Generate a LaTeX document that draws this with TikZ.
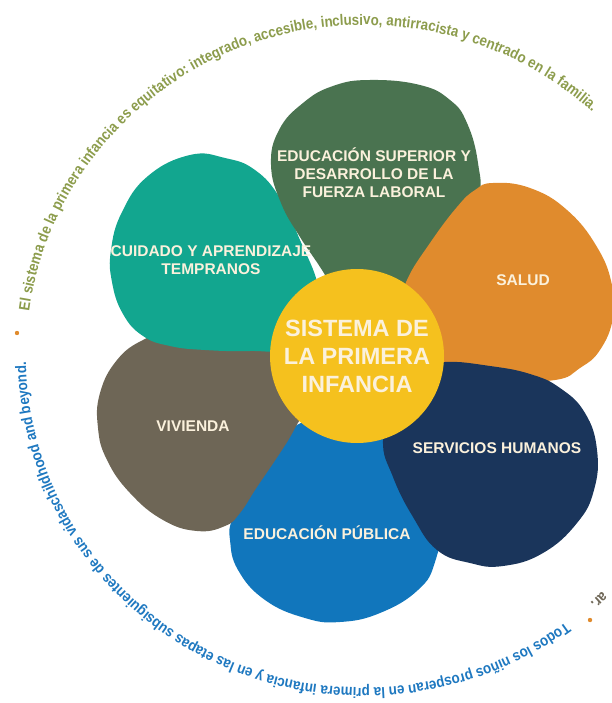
\documentclass[tikz,border=0pt]{standalone}
\usepackage{fontspec}
\setmainfont{Liberation Sans}
\newfontfamily\curvefont[FakeStretch=0.88]{Liberation Sans Bold}
\usetikzlibrary{decorations.text}

\definecolor{tealpetal}{HTML}{12A68F}
\definecolor{greenpetal}{HTML}{4A7350}
\definecolor{orangepetal}{HTML}{E08B2D}
\definecolor{navypetal}{HTML}{1A355B}
\definecolor{bluepetal}{HTML}{1176BC}
\definecolor{brownpetal}{HTML}{6E6656}
\definecolor{centeryellow}{HTML}{F5C11E}
\definecolor{labelcream}{HTML}{FBF1DC}
\definecolor{olivetext}{HTML}{8C9C4C}
\definecolor{bluetext}{HTML}{1E78C0}

\NewDocumentCommand{\petal}{mm}{%
\fill[#1] plot[smooth cycle, tension=0.75] coordinates {#2};%
}

\tikzset{
  petallabel/.style={text=labelcream, align=center,
    font=\bfseries\fontsize{15.5}{18}\selectfont},
  centerlabel/.style={circle, fill=centeryellow, minimum size=174pt,
    inner sep=0pt, text=labelcream, align=center,
    font=\bfseries\fontsize{23.5}{28}\selectfont},
  arctext/.style={decorate, decoration={text along path, text align=center,
    text color=#1}},
}

\begin{document}
\begin{tikzpicture}[x=1pt, y=1pt]
        \useasboundingbox (0,0) rectangle (611,-703);

        % petals, bottom one first
        \petal{bluepetal}{(297,-425) (270,-465) (245,-497) (232,-520) (230,-540) (238,-570) (265,-600) (305,-618) (340,-622) (380,-613) (418,-590) (435,-562) (440,-520) (425,-470) (395,-432) (350,-420)}
        \petal{brownpetal}{(143,-340) (117,-360) (100,-393) (98,-428) (107,-460) (130,-493) (163,-520) (197,-531) (225,-526) (240,-513) (257,-487) (280,-453) (295,-428) (310,-395) (300,-350) (230,-335) (170,-333)}
        \petal{tealpetal}{(190,-155) (225,-158) (255,-170) (280,-198) (300,-240) (318,-285) (320,-320) (290,-348) (250,-351) (205,-350) (170,-346) (143,-336) (123,-314) (112,-282) (111,-250) (122,-212) (148,-176)}
        \petal{greenpetal}{(370,-80) (420,-85) (450,-100) (467,-123) (478,-163) (478,-200) (455,-245) (420,-290) (385,-325) (350,-315) (322,-270) (300,-237) (281,-203) (271,-165) (279,-130) (303,-103) (333,-86)}
        \petal{orangepetal}{(493,-183) (530,-188) (567,-210) (597,-247) (612,-285) (613,-318) (600,-350) (580,-368) (555,-380) (500,-380) (450,-370) (405,-345) (400,-310) (407,-280) (430,-243) (457,-207) (475,-190)}
        \petal{navypetal}{(445,-362) (490,-366) (530,-374) (560,-388) (585,-413) (597,-450) (594,-490) (577,-523) (543,-553) (503,-566) (470,-563) (437,-550) (413,-517) (393,-477) (383,-440) (395,-395) (415,-370)}

        % labels
        \node[petallabel] (superior) at (374,-173) {EDUCACIÓN SUPERIOR Y\\DESARROLLO DE LA\\FUERZA LABORAL};
        \node[petallabel] (cuidado) at (211,-260) {CUIDADO Y APRENDIZAJE\\TEMPRANOS};
        \node[petallabel] (salud) at (523,-280) {SALUD};
        \node[petallabel] (servicios) at (497,-448) {SERVICIOS HUMANOS};
        \node[petallabel] (publica) at (327,-533) {EDUCACIÓN PÚBLICA};
        \node[petallabel] (vivienda) at (193,-426) {VIVIENDA};

        % centre
        \node[centerlabel] (sistema) at (357,-356) {SISTEMA DE\\LA PRIMERA\\INFANCIA};

        % ring of text
        \path[arctext=olivetext, decoration={text={|\curvefont\fontsize{15.2}{15.2}\selectfont|El sistema de la primera infancia es equitativo: integrado, accesible, inclusivo, antirracista y centrado en la familia.}}]
          (364,-356.5) ++(184.9:338 and 331.5) arc[start angle=184.9, end angle=34.9, x radius=338, y radius=331.5];
        \path[arctext=bluetext, decoration={text={|\curvefont\fontsize{15.2}{15.2}\selectfont|Todos los niños prosperan en la primera infancia y en las etapas subsiguientes de sus vidaschildhood and beyond.}}]
          (364,-356.5) ++(-39.25:338 and 331.5) arc[start angle=-39.25, end angle=-193.25, x radius=338, y radius=331.5];
        \path[arctext=brownpetal, decoration={text align=right, text={|\curvefont\fontsize{15.2}{15.2}\selectfont|ar.}}]
          (364,-356.5) ++(-30:338 and 331.5) arc[start angle=-30, end angle=-48, x radius=338, y radius=331.5];

        % dots
        \fill[orangepetal] (17,-333) circle (2.2);
        \fill[orangepetal] (590,-620) circle (2.2);
\end{tikzpicture}
\end{document}
